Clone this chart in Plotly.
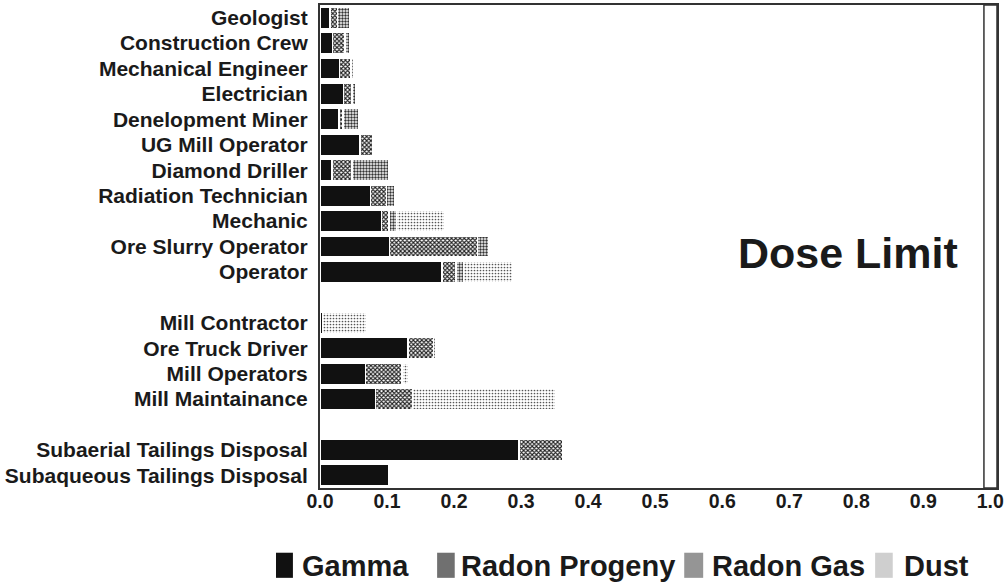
import plotly.graph_objects as go

# ---- data ----
categories = ["Geologist", "Construction Crew", "Mechanical Engineer", "Electrician",
              "Denelopment Miner", "UG Mill Operator", "Diamond Driller",
              "Radiation Technician", "Mechanic", "Ore Slurry Operator", "Operator",
              "",
              "Mill Contractor", "Ore Truck Driver", "Mill Operators", "Mill Maintainance",
              "",
              "Subaerial Tailings Disposal", "Subaqueous Tailings Disposal"]

gamma = [0.015, 0.019, 0.029, 0.035, 0.028, 0.060, 0.018, 0.075, 0.092, 0.104, 0.182,
         None, 0.004, 0.131, 0.068, 0.083, None, 0.297, 0.102]
radon_progeny = [0.011, 0.018, 0.017, 0.013, 0.006, 0.018, 0.030, 0.024, 0.011, 0.131, 0.021,
                 None, 0.0, 0.038, 0.054, 0.055, None, 0.065, 0.0]
radon_gas = [0.018, 0.008, 0.005, 0.005, 0.024, 0.0, 0.054, 0.013, 0.011, 0.017, 0.011,
             None, 0.0, 0.004, 0.0, 0.0, None, 0.0, 0.0]
dust = [0.0, 0.0, 0.0, 0.0, 0.0, 0.0, 0.0, 0.0, 0.072, 0.0, 0.074,
        None, 0.066, 0.0, 0.011, 0.214, None, 0.0, 0.0]

series_names = ["Gamma", "Radon Progeny", "Radon Gas", "Dust"]
dose_limit = 1.0
x_ticks = [0.0, 0.1, 0.2, 0.3, 0.4, 0.5, 0.6, 0.7, 0.8, 0.9, 1.0]
x_tick_labels = ["0.0", "0.1", "0.2", "0.3", "0.4", "0.5", "0.6", "0.7", "0.8", "0.9", "1.0"]

# ---- styling ----
FONT = "Liberation Sans, Arial, Helvetica, sans-serif"
TXT = "#1a1a1a"

markers = [
    dict(color="#111111"),
    dict(color="#ffffff", pattern=dict(shape="x", fgcolor="#222222", bgcolor="#ffffff",
                                       size=3, solidity=0.6, fillmode="replace")),
    dict(color="#ffffff", pattern=dict(shape=".", fgcolor="#333333", bgcolor="#ffffff",
                                       size=3, solidity=0.5, fillmode="replace")),
    dict(color="#ffffff", pattern=dict(shape=".", fgcolor="#555555", bgcolor="#ffffff",
                                       size=3, solidity=0.25, fillmode="replace")),
]
swatch_fill = ["#111111", "#707070", "#959595", "#cfcfcf"]

positions = list(range(len(categories)))
tick_pos = [p for p, c in zip(positions, categories) if c]
tick_txt = [c for c in categories if c]

fig = go.Figure()
for name, vals, mk in zip(series_names, [gamma, radon_progeny, radon_gas, dust], markers):
    mk = dict(mk)
    mk["line"] = dict(color="#ffffff", width=1.5)
    fig.add_trace(go.Bar(name=name, x=vals, y=positions, orientation="h",
                         marker=mk, width=0.84, showlegend=False))

# dose limit band
fig.add_shape(type="rect", xref="x", yref="paper",
              x0=dose_limit - 0.0095, x1=dose_limit + 0.01, y0=0, y1=1,
              line=dict(color="#333333", width=1.5), fillcolor="white", layer="above")

fig.add_annotation(text="Dose Limit", xref="paper", yref="paper", x=0.78, y=0.487,
                   xanchor="center", yanchor="middle", showarrow=False,
                   font=dict(family=FONT, size=43, color=TXT, weight="bold"))

# legend (large swatches like the reference)
sw_x = [(-0.065, -0.040), (0.173, 0.199), (0.538, 0.566), (0.820, 0.846)]
txt_x = [-0.030, 0.206, 0.576, 0.860]
for name, fill, (a, b), tx in zip(series_names, swatch_fill, sw_x, txt_x):
    fig.add_shape(type="rect", xref="paper", yref="paper", x0=a, x1=b,
                  y0=-0.186, y1=-0.134, line=dict(width=0), fillcolor=fill)
    fig.add_annotation(text=name, xref="paper", yref="paper", x=tx, y=-0.161,
                       xanchor="left", yanchor="middle", showarrow=False,
                       font=dict(family=FONT, size=29, color=TXT, weight="bold"))

fig.update_layout(
    barmode="stack",
    width=1008, height=583,
    margin=dict(l=320, r=11, t=3, b=95),
    plot_bgcolor="white", paper_bgcolor="white",
    showlegend=False,
    bargap=0.16,
    xaxis=dict(range=[0, 1.01], tickvals=x_ticks, ticktext=x_tick_labels,
               showgrid=False, zeroline=False, showline=True, linecolor="#333333",
               linewidth=2, mirror=True, ticks="", ticklabelstandoff=-5,
               tickfont=dict(family=FONT, size=19.5, color=TXT, weight="bold")),
    yaxis=dict(range=[len(categories) - 0.5, -0.5], tickvals=tick_pos, ticktext=tick_txt,
               showgrid=False, zeroline=False, showline=True, linecolor="#333333",
               linewidth=2, mirror=True, ticks="", ticklabelstandoff=6,
               tickfont=dict(family=FONT, size=21, color=TXT, weight="bold")),
)

fig.write_html("out.html", config={"displayModeBar": False},
               post_script="document.body.style.margin='0';")
